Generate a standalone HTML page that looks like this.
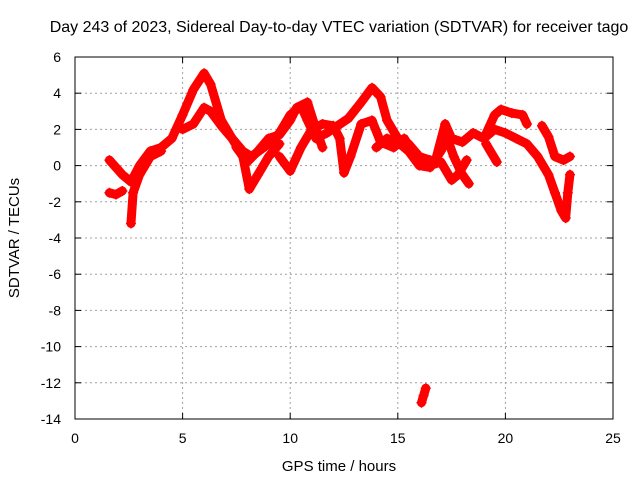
<!DOCTYPE html>
<html><head><meta charset="utf-8"><style>
body{margin:0;background:#fff;}
svg{display:block;font-family:"Liberation Sans",sans-serif;}
</style></head><body>
<svg id="chart" width="640" height="480">
<rect width="640" height="480" fill="#fff"/>
<text x="339" y="32" font-size="16" text-anchor="middle">Day 243 of 2023, Sidereal Day-to-day VTEC variation (SDTVAR) for receiver tago</text>
<text x="339" y="471" font-size="15" text-anchor="middle">GPS time / hours</text>
<text transform="translate(19,238) rotate(-90)" font-size="15" text-anchor="middle">SDTVAR / TECUs</text>
<g id="grid"></g><g id="marks"></g>
<rect x="75" y="57" width="538" height="362" fill="none" stroke="#000" stroke-width="1"/>
</svg>
<script>
const xTicks=[0,5,10,15,20,25];
const yTicks=[6,4,2,0,-2,-4,-6,-8,-10,-12,-14];
const trackA=[[1.6,0.3],[2.2,-0.5],[2.6,-0.9],[3,0],[3.5,0.8],[4,1],[4.5,1.5],[5,2.8],[5.5,4.2],[6,5.1],[6.3,4.5],[6.8,2.5],[7.3,1.5],[7.8,0.8],[8.2,0.5],[9,1.2],[9.5,1.8],[10,2.8],[10.5,3.3],[10.8,2.5],[11.2,1.5],[11.7,1.8],[12.2,2.2],[12.7,2.6],[13.3,3.5],[13.8,4.3],[14.2,3.8],[14.5,2.5],[15,1.5],[15.5,1.2],[16,0.5],[16.5,0.3]];
const trackB=[[1.6,-1.5],[1.9,-1.6],[2.2,-1.4]];
const trackC=[[2.6,-3.2],[2.7,-1.5],[3,-0.5],[3.5,0.5],[4,0.8]];
const trackD=[[5,2],[5.5,2.3],[6,3.2],[6.3,3.0],[6.8,2.2],[7.3,1.5],[7.8,0.5],[8.1,-1.3],[8.5,-0.5],[9,0.5],[9.5,1.2]];
const trackE=[[7.5,1],[8,0.2],[8.5,0.8],[9,1.5],[9.5,1.7],[10,2.5],[10.3,3.2],[10.8,3.5],[11.2,2],[11.5,1]];
const trackF=[[9.5,0.5],[10,-0.3],[10.5,1.0],[11,2],[11.5,2.3],[12,2.2],[12.3,1.5],[12.5,-0.4],[12.8,0.5],[13.3,2.3],[13.8,2.5],[14.2,1.3],[14.8,1],[15.3,1.5],[15.8,0.5],[16.5,0],[17,0.2],[17.5,-0.8],[17.8,-0.5],[18.2,0.3]];
const trackG=[[14,1],[14.5,1.5],[15,1.3],[15.5,0.8],[16,0],[16.5,-0.1],[17,0.8],[17.3,1.5],[17.6,0.5],[18,-0.5],[18.3,-1]];
const trackH=[[16.8,0.5],[17.2,2.3],[17.5,1.5],[18,1.3],[18.5,1.8],[19,1.5],[19.5,2.8],[19.8,3.1],[20.3,2.9],[20.8,2.8],[21,2.3]];
const trackJ=[[19,1.5],[19.5,2],[20,1.8],[20.5,1.5],[21,1.2],[21.5,0.5],[22,-0.5],[22.3,-1.5],[22.6,-2.5],[22.8,-2.9],[22.9,-1.5],[23,-0.5]];
const trackK=[[21.7,2.2],[22,1.6],[22.3,0.5],[22.7,0.3],[23,0.5]];
const trackL=[[19.1,1.2],[19.4,0.6],[19.6,0.2]];
const outlier=[[16.1,-13.1],[16.2,-12.7],[16.3,-12.3]];
const tracks=[trackA,trackB,trackC,trackD,trackE,trackF,trackG,trackH,trackJ,trackK,trackL,outlier];
const X=h=>75+h*538/25, Y=v=>57+(6-v)*362/20;
const NS="http://www.w3.org/2000/svg";
const grid=document.getElementById('grid'), marks=document.getElementById('marks');
function mk(tag,attrs,parent){const e=document.createElementNS(NS,tag);for(const k in attrs)e.setAttribute(k,attrs[k]);parent.appendChild(e);return e;}
xTicks.forEach(t=>{const x=X(t);
 if(t>0&&t<25){const g=mk('line',{x1:x,x2:x,y1:57,y2:419,stroke:'#a0a0a0','stroke-dasharray':'2,3'},grid);
 
 }
 mk('line',{x1:x,x2:x,y1:419,y2:413,stroke:'#000'},grid);mk('line',{x1:x,x2:x,y1:57,y2:63,stroke:'#000'},grid);
 const l=mk('text',{x:x,y:443,'font-size':14,'text-anchor':'middle'},grid);l.textContent=t;
 
 });
yTicks.forEach(t=>{const y=Y(t);
 if(t<6&&t>-14){const g=mk('line',{x1:75,x2:613,y1:y,y2:y,stroke:'#a0a0a0','stroke-dasharray':'2,3'},grid);
 
 }
 mk('line',{x1:75,x2:81,y1:y,y2:y,stroke:'#000'},grid);mk('line',{x1:613,x2:607,y1:y,y2:y,stroke:'#000'},grid);
 const l=mk('text',{x:61,y:y+5,'font-size':14,'text-anchor':'end'},grid);l.textContent=t;
 
 });
tracks.forEach((tr,i)=>{
 const p=mk('polyline',{points:tr.map(d=>X(d[0])+','+Y(d[1])).join(' '),fill:'none',stroke:'#ff0000','stroke-width':9,'stroke-linejoin':'round','stroke-linecap':'round'},marks);
 
 
 tr.forEach(d=>{const x=X(d[0]),y=Y(d[1]);
  const m=mk('path',{d:`M${x-5},${y}H${x+5}M${x},${y-5}V${y+5}`,stroke:'#ff0000','stroke-width':1.5},marks);
  
  });
});
</script>
</body></html>
